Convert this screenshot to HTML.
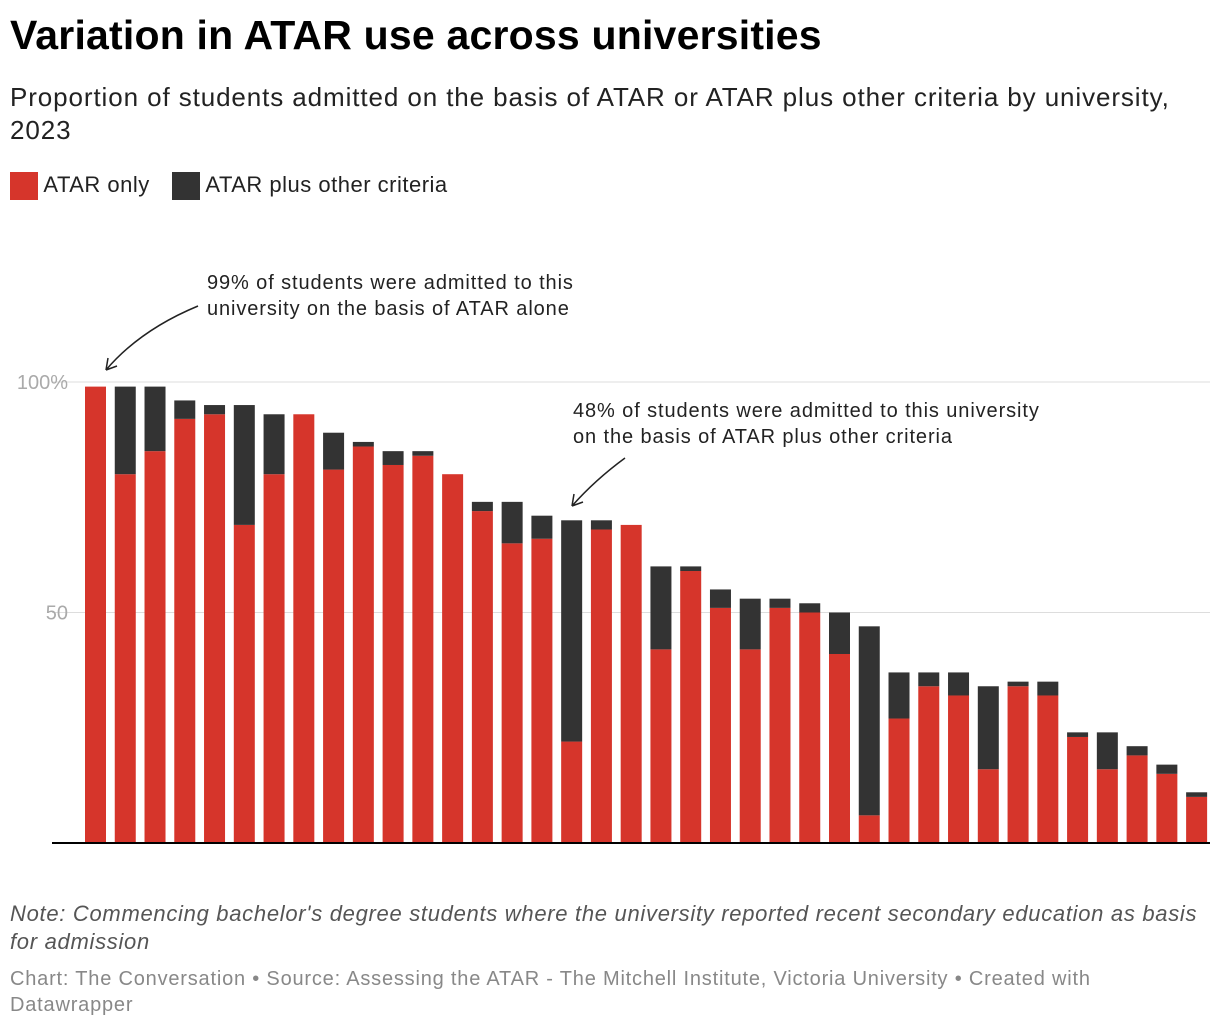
<!DOCTYPE html>
<html><head><meta charset="utf-8"><style>
body{margin:0;width:1220px;height:1028px;background:#fff;font-family:"Liberation Sans",sans-serif;position:relative;overflow:hidden}
.t{position:absolute;white-space:nowrap}
</style></head><body>
<div class="t" style="left:10px;top:12px;font-size:41px;letter-spacing:0.2px;font-weight:bold;color:#000">Variation in ATAR use across universities</div>
<div class="t" style="left:10px;top:81px;font-size:26px;letter-spacing:0.9px;color:#222;line-height:33px">Proportion of students admitted on the basis of ATAR or ATAR plus other criteria by university,<br>2023</div>
<div style="position:absolute;left:10px;top:172px;font-size:22px;letter-spacing:0.5px;color:#222">
<span style="position:absolute;left:0;top:0;white-space:nowrap"><span style="display:inline-block;width:28px;height:28px;background:#d6352b;vertical-align:middle"></span> ATAR only</span>
<span style="position:absolute;left:162px;top:0;white-space:nowrap"><span style="display:inline-block;width:28px;height:28px;background:#333;vertical-align:middle"></span> ATAR plus other criteria</span>
</div>
<svg id="chart" width="1220" height="1028" style="position:absolute;left:0;top:0" font-family="Liberation Sans, sans-serif"></svg>
<div class="t" style="left:10px;top:900px;font-size:22px;letter-spacing:0.7px;font-style:italic;color:#555;line-height:28px">Note: Commencing bachelor's degree students where the university reported recent secondary education as basis<br>for admission</div>
<div class="t" style="left:10px;top:966px;font-size:20px;letter-spacing:0.8px;color:#888;line-height:26px">Chart: The Conversation • Source: Assessing the ATAR - The Mitchell Institute, Victoria University • Created with<br>Datawrapper</div>
<script>
const atarOnly=[99,80,85,92,93,69,80,93,81,86,82,84,80,72,65,66,22,68,69,42,59,51,42,51,50,41,6,27,34,32,16,34,32,23,16,19,15,10];
const atarPlus=[0,19,14,4,2,26,13,0,8,1,3,1,0,2,9,5,48,2,0,18,1,4,11,2,2,9,41,10,3,5,18,1,3,1,8,2,2,1];
const yTicks=[50,100];
const yTickLabels=["50","100%"];
const svg=document.getElementById('chart');
const NS='http://www.w3.org/2000/svg';
const y0=843,yTop=382,xL=85,step=29.76,bw=21;
const y=v=>y0-(v/100)*(y0-yTop);
const x=i=>xL+i*step;
function mk(t,a){const e=document.createElementNS(NS,t);for(const k in a)e.setAttribute(k,a[k]);svg.appendChild(e);return e;}
yTicks.forEach((v,i)=>{
 const g=mk('line',{x1:52,x2:1210,y1:y(v),y2:y(v),stroke:'#ddd','stroke-width':1});
 
 
 const t=mk('text',{x:68,y:y(v)+7,'text-anchor':'end','font-size':20,fill:'#aaa'});
 t.textContent=yTickLabels[i];
 
 
});
atarOnly.forEach((v,i)=>{
 const r=mk('rect',{x:x(i),y:y(v),width:bw,height:y0-y(v),fill:'#d6352b'});
 
 
 const p=atarPlus[i];
 if(p>0){const r2=mk('rect',{x:x(i),y:y(v+p),width:bw,height:y(v)-y(v+p),fill:'#333'});
 
 }
});
const ax=mk('line',{x1:52,x2:1210,y1:y0,y2:y0,stroke:'#000','stroke-width':2});


function ann(lines,tx,ty,path,name){
 lines.forEach((l,j)=>{const t=mk('text',{x:tx,y:ty+j*26,'font-size':20,'letter-spacing':0.9,fill:'#222'});t.textContent=l;
 
 });
 const p=mk('path',{d:path,fill:'none',stroke:'#222','stroke-width':1.5});
 
 
}
ann(["99% of students were admitted to this","university on the basis of ATAR alone"],207,289,"M198,306 Q140,330 106,370 M106,370 l2,-12 M106,370 l11,-4","annotation-atar-alone");
ann(["48% of students were admitted to this university","on the basis of ATAR plus other criteria"],573,417,"M625,458 Q595,480 572,506 M572,506 l2,-12 M572,506 l11,-4","annotation-atar-plus");
</script>
</body></html>
